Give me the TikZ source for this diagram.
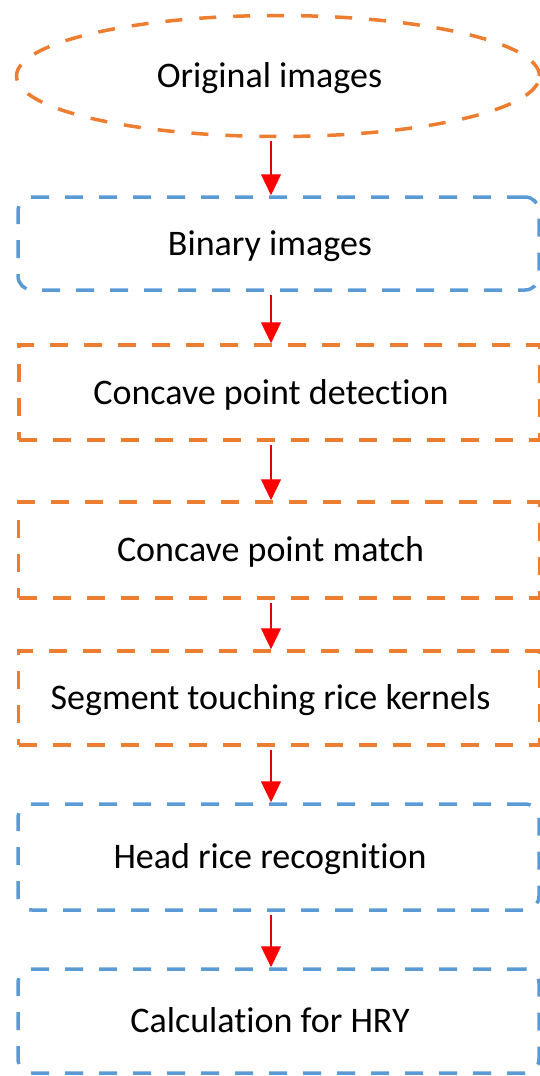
\documentclass[tikz,border=0pt]{standalone}
\usepackage{fontspec}
\setmainfont{Carlito}[Ligatures=NoCommon]
\usetikzlibrary{arrows.meta,shapes.geometric}
\definecolor{orng}{RGB}{237,125,49}
\definecolor{blu}{RGB}{91,155,213}
\begin{document}
\begin{tikzpicture}[x=1pt,y=-1pt,
  txt/.style={font=\fontsize{36}{42}\selectfont, text height=23pt, text depth=0pt},
  box/.style={txt, draw, line width=3.5pt, dash pattern=on 18pt off 16pt, minimum width=521pt, inner sep=0pt},
  obox/.style={box, draw=orng},
  bbox/.style={box, draw=blu, rounded corners=14pt},
  oell/.style={txt, ellipse, draw=orng, line width=3.5pt, dash pattern=on 17pt off 17pt, minimum width=523pt, minimum height=121pt, inner sep=0pt},
  arr/.style={draw=red!90!black, line width=1.2pt, shorten <=3pt, -{Triangle[length=21pt,width=20pt,fill=red,color=red]}}
]
\useasboundingbox (0,0) rectangle (540,1076);
\coordinate (ax) at (271,0);
\node[oell] (n0) at (278,76) {Original images\hspace*{17pt}};
\node[bbox, minimum height=93pt] (n1) at (278.5,243.5) {Binary images\hspace*{17pt}};
\node[obox, minimum height=95pt] (n2) at (279.5,392.5) {Concave point detection\hspace*{17pt}};
\node[obox, minimum height=96pt] (n3) at (279,550) {Concave point match\hspace*{17pt}};
\node[obox, minimum height=94pt] (n4) at (279,698) {Segment touching rice kernels\hspace*{17pt}};
\node[bbox, minimum height=106pt] (n5) at (278.5,857) {Head rice recognition\hspace*{17pt}};
\node[bbox, minimum height=104pt] (n6) at (278.5,1021) {Calculation for HRY\hspace*{17pt}};
\draw[arr] (n0.south -| ax) -- (n1.north -| ax);
\draw[arr] (n1.south -| ax) -- (n2.north -| ax);
\draw[arr] (n2.south -| ax) -- (n3.north -| ax);
\draw[arr] (n3.south -| ax) -- (n4.north -| ax);
\draw[arr] (n4.south -| ax) -- (n5.north -| ax);
\draw[arr] (n5.south -| ax) -- (n6.north -| ax);
\end{tikzpicture}
\end{document}
